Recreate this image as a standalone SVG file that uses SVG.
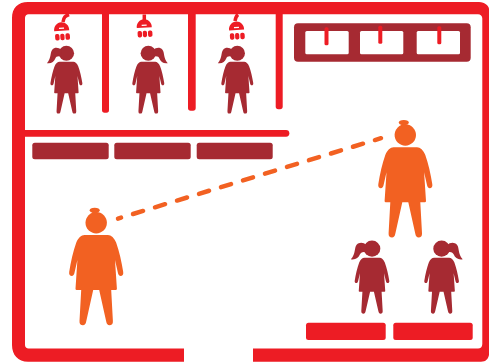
<svg xmlns="http://www.w3.org/2000/svg" xmlns:xlink="http://www.w3.org/1999/xlink" width="489" height="362" viewBox="0 0 489 362">
<style>
.red{fill:#ed1c24}
.maroon{fill:#a62a32}
.orange{fill:#f26122}
.neck{fill:none;stroke:#ed1c24;stroke-width:3.5}
.wall{fill:#ed1c24}
</style>
<defs>
<path id="body" d="M-11.700 0H11.700C15 0 18 3 20 7.700C23 16 25.500 27 27 37C27.500 39.500 26 41 24.500 41C23 41 22 39.500 21.700 37.700L18.800 25L20.700 53.700Q20.700 55 19.500 55H15L16.700 86C16.900 89 15.500 90.300 13.300 90.300C11.500 90.300 10.500 89 10 86.500L3 55H-3L-10 86.500C-10.500 89-11.500 90.300-13.300 90.300C-15.500 90.300-16.900 89-16.700 86L-15 55H-19.500Q-20.700 55-20.700 53.700L-18.800 25L-21.700 37.700C-22 39.500-23 41-24.500 41C-26 41-27.500 39.500-27 37C-25.500 27-23 16-20 7.700C-18 3-15 0-11.700 0Z"/>
<g id="woman"><use href="#body"/><circle cx="0" cy="-12.300" r="10.700"/><ellipse cx="-1.500" cy="-24.800" rx="5" ry="2.500"/><rect x="-4" y="-25" width="5" height="4.500"/></g>
<g id="girl-l"><use href="#body"/><circle cx="0" cy="-14.600" r="13"/><path d="M-8-20C-14-25.500-20-25-24-21C-28-16-25-7-33 2.500C-26 4-21 0-19-5C-17-9-16-10-8-9Z"/></g>
<g id="girl-r"><use href="#girl-l" transform="scale(-1 1)"/></g>
<g id="shower"><path d="M-7.500 0C-8-5-4-8.500 0-8.500C4-8.500 8-5 7.500 0Z"/><path d="M-2.500-2.500H2.500" stroke="#fff" stroke-width="1.200"/><rect x="-7" y="3" width="4.400" height="6.500" rx="1.800"/><rect x="-1.800" y="3" width="4.200" height="6.500" rx="1.800"/><rect x="3.400" y="3" width="4.400" height="6.500" rx="1.800"/></g>
</defs>
<rect width="489" height="362" fill="#fff"/>
<g id="room">
<path class="wall" fill-rule="evenodd" d="M184 361.700H28C18 361.700 12 355 12 345V18C12 8 18 2 28 2H479C485 2 489 6 489 9V355C488 359 486 361.700 481 361.700H253V348.500H478C480.500 348.500 482.300 347 482.300 344V18.500C482.300 16 480.500 14.300 478 14.300H28.500C26.500 14.300 25 16 25 18V345C25 347 26.500 348.500 28.500 348.500H184Z"/>
<path class="wall" d="M25 130H286A3.300 3.300 0 0 1 286 136.700H25Z"/>
<path class="wall" d="M102 14H109V110Q109 112.700 106.500 112.700H104.500Q102 112.700 102 110Z"/>
<path class="wall" d="M188 14H195.700V108Q195.700 110.700 193 110.700H190.700Q188 110.700 188 108Z"/>
<path class="wall" d="M275.700 14H282.700V106.500Q282.700 109.300 280 109.300H278.400Q275.700 109.300 275.700 106.500Z"/>
</g>
<g id="lockers">
<rect class="maroon" x="294" y="23.300" width="176.700" height="38.400" rx="4"/>
<rect x="305.300" y="31" width="43.400" height="23.300" rx="1.500" fill="#fff"/>
<rect x="360" y="31" width="43.300" height="23.300" rx="1.500" fill="#fff"/>
<rect x="416.700" y="31" width="43.300" height="23.300" rx="1.500" fill="#fff"/>
<rect class="red" x="324.500" y="27.300" width="4" height="18" rx="1.500"/>
<rect class="red" x="378.300" y="25.700" width="4" height="18" rx="1.500"/>
<rect class="red" x="437.300" y="26.300" width="4" height="18" rx="1.500"/>
</g>
<g id="benches">
<rect class="maroon" x="32.300" y="142.700" width="76.400" height="16.600" rx="2.500"/>
<rect class="maroon" x="114.300" y="142.700" width="76.400" height="16.600" rx="2.500"/>
<rect class="maroon" x="196.700" y="142.700" width="76" height="16.600" rx="2.500"/>
<rect class="red" x="306" y="322.700" width="79.700" height="17.300" rx="2.500"/>
<rect class="red" x="393.300" y="322.700" width="79.400" height="17.300" rx="2.500"/>
</g>
<g id="shower-1"><path class="neck" d="M69 14.500C65 16 64 17 63 22"/><use href="#shower" class="red" transform="translate(61.700 30.700) rotate(-4)"/></g>
<g id="shower-2"><path class="neck" d="M144.300 14.500V20"/><use href="#shower" class="red" transform="translate(144.300 27.700) rotate(-3)"/></g>
<g id="shower-3"><path class="neck" d="M238 14.500C236 16 235.500 18 235 21"/><use href="#shower" class="red" transform="translate(236.600 30) rotate(-3)"/></g>
<g id="girl-1" class="maroon" transform="translate(66.400 61.700) scale(.59 .575)"><use href="#girl-l"/></g>
<g id="girl-2" class="maroon" transform="translate(148.300 61.700) scale(.59 .575)"><use href="#girl-r"/></g>
<g id="girl-3" class="maroon" transform="translate(237.300 61.700) scale(.59 .575)"><use href="#girl-l"/></g>
<g id="girl-4" class="maroon" transform="translate(372 257.700) scale(.64 .62)"><use href="#girl-l"/></g>
<g id="girl-5" class="maroon" transform="translate(441.600 257.700) scale(.64 .62)"><use href="#girl-r"/></g>
<g id="woman-1" class="orange" transform="translate(96.200 235)"><use href="#woman"/></g>
<g id="woman-2" class="orange" transform="translate(405.300 147.300)"><use href="#woman"/></g>
<g id="connectors">
<path d="M118 218.600L381 138.200" fill="none" stroke="#f26122" stroke-width="4.500" stroke-linecap="round" stroke-dasharray="10.500 12.500" stroke-dashoffset="7.300"/>
</g>
</svg>
